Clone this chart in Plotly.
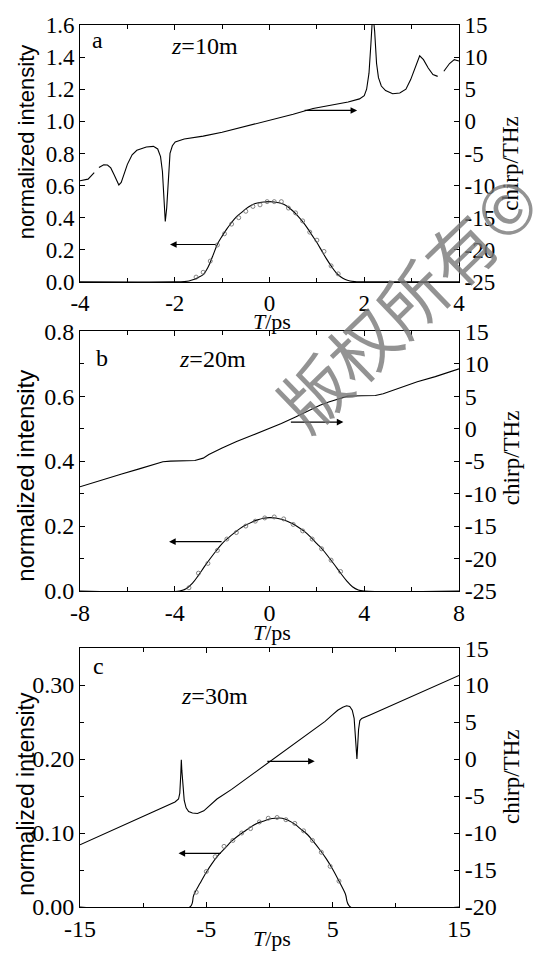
import plotly.graph_objects as go

# ---------------- data ----------------
# panel a (z = 10 m)
a_T = [-4, -2.0, -1.8, -1.7, -1.6, -1.5, -1.4, -1.3, -1.2, -1.1, -1.0, -0.9, -0.8, -0.7, -0.6, -0.5,
       -0.4, -0.3, -0.2, -0.1, 0, 0.1, 0.2, 0.3, 0.4, 0.5, 0.6, 0.7, 0.8, 0.9, 1.0, 1.1, 1.2, 1.3,
       1.4, 1.5, 1.6, 1.7, 1.8, 1.9, 2.0, 4]
a_I = [0, 0, 0.002, 0.006, 0.015, 0.028, 0.045, 0.09, 0.16, 0.235, 0.285, 0.33, 0.37, 0.405, 0.43,
       0.455, 0.475, 0.488, 0.495, 0.498, 0.5, 0.498, 0.493, 0.483, 0.465, 0.44, 0.41, 0.375, 0.335,
       0.29, 0.245, 0.195, 0.145, 0.1, 0.06, 0.032, 0.015, 0.006, 0.002, 0.0005, 0, 0]
a_mT = [-1.55, -1.4, -1.25, -1.1, -0.95, -0.8, -0.65, -0.5, -0.35, -0.2, -0.05, 0.1, 0.25, 0.4,
        0.55, 0.7, 0.85, 1.0, 1.15, 1.3, 1.45]
a_mI = [0.03, 0.06, 0.13, 0.23, 0.30, 0.36, 0.40, 0.44, 0.47, 0.48, 0.50, 0.50, 0.50, 0.46, 0.43,
        0.38, 0.31, 0.26, 0.19, 0.10, 0.05]
a_cT = [-4, -3.83, -3.7, None, -3.6, -3.5, -3.42, -3.35, -3.28, -3.22, -3.18, -3.13, -3.08, -3.0,
        -2.9, -2.8, -2.6, -2.45, -2.36, -2.3, -2.26, -2.23, -2.2, -2.17, -2.14, -2.1, -2.05, -1.99,
        -1.8, -1.4, -1.0, -0.5, 0, 0.5, 0.92, 1.3, 1.66, 1.9, 2.0, 2.05, 2.1, 2.14, 2.18, 2.22, 2.26,
        2.3, 2.36, 2.45, 2.6, 2.75, 2.88, 2.98, 3.08, 3.17, 3.25, 3.35, 3.45, 3.55, None, 3.68, 3.8,
        3.9, 4.0]
a_C = [-9.25, -9.0, -8.0, None, -7.2, -6.75, -6.8, -7.25, -8.3, -9.4, -9.9, -9.5, -8.5, -6.7,
       -5.2, -4.5, -4.0, -3.9, -4.3, -5.5, -7.8, -11.5, -15.6, -13.5, -9.0, -5.0, -3.8, -3.2,
       -2.75, -2.3, -1.7, -0.8, 0.2, 1.1, 2.0, 2.5, 3.0, 3.5, 4.0, 5.0, 7.5, 12.0, 17.0, 14.0, 9.0,
       6.8, 5.5, 4.8, 4.3, 4.4, 5.0, 6.5, 8.5, 10.2, 9.6, 8.3, 7.3, 7.0, None, 7.8, 9.0, 9.6, 9.4]

# panel b (z = 20 m)
b_T = [-8, -3.8, -3.5, -3.25, -3.0, -2.75, -2.5, -2.25, -2.0, -1.75, -1.5, -1.25, -1.0, -0.75,
       -0.5, -0.25, 0, 0.25, 0.5, 0.75, 1.0, 1.25, 1.5, 1.75, 2.0, 2.25, 2.5, 2.75, 3.0, 3.25, 3.5,
       3.75, 4.0, 8]
b_I = [0, 0, 0.008, 0.024, 0.048, 0.075, 0.1, 0.124, 0.146, 0.163, 0.178, 0.192, 0.203, 0.212,
       0.219, 0.224, 0.226, 0.225, 0.221, 0.215, 0.206, 0.195, 0.182, 0.165, 0.146, 0.127, 0.104,
       0.08, 0.055, 0.032, 0.013, 0.003, 0, 0]
b_mT = [-3.4, -3.0, -2.6, -2.2, -1.8, -1.4, -1.0, -0.6, -0.2, 0.2, 0.6, 1.0, 1.4, 1.8, 2.2, 2.6, 3.0]
b_mI = [0.01, 0.055, 0.085, 0.125, 0.16, 0.18, 0.20, 0.215, 0.225, 0.228, 0.222, 0.205, 0.185,
        0.16, 0.13, 0.095, 0.06]
b_cT = [-8, -7, -6.24, -5.5, -4.92, -4.5, -4.18, -3.6, -3.15, -2.8, -2.56, -2.0, -1.39, -0.7, 0,
        0.5, 1.1, 1.6, 2.13, 2.5, 2.86, 3.3, 3.9, 4.47, 4.8, 5.06, 5.6, 6.24, 7.0, 8]
b_C = [-8.95, -7.9, -7.0, -6.2, -5.5, -5.1, -5.0, -4.95, -4.9, -4.55, -4.0, -3.0, -2.0, -1.0, 0.0,
       0.8, 1.8, 2.7, 3.6, 4.1, 4.5, 5.0, 5.05, 5.1, 5.35, 5.7, 6.4, 7.2, 8.0, 9.2]

# panel c (z = 30 m)
c_T = [-15, -6.3, -6.0, -5.5, -5.0, -4.5, -4.0, -3.5, -3.0, -2.5, -2.0, -1.5, -1.0, -0.5, 0, 0.5,
       1.0, 1.5, 2.0, 2.5, 3.0, 3.5, 4.0, 4.5, 5.0, 5.5, 6.0, 6.4, 15]
c_I = [0, 0, 0.016, 0.032, 0.047, 0.06, 0.071, 0.08, 0.089, 0.096, 0.102, 0.108, 0.113, 0.116,
       0.119, 0.12, 0.12, 0.117, 0.112, 0.105, 0.098, 0.088, 0.077, 0.065, 0.051, 0.035, 0.018, 0, 0]
c_mT = [-5.8, -5.0, -4.3, -3.6, -2.9, -2.2, -1.5, -0.8, -0.1, 0.6, 1.3, 2.0, 2.7, 3.4, 4.1, 4.8, 5.5]
c_mI = [0.02, 0.048, 0.068, 0.082, 0.09, 0.10, 0.106, 0.115, 0.12, 0.121, 0.118, 0.113, 0.103,
        0.09, 0.074, 0.055, 0.035]
c_cT = [-15, -12, -10, -8.5, -7.48, -7.2, -7.1, -7.02, -6.98, -6.94, -6.87, -6.75, -6.6, -6.4,
        -6.1, -5.7, -5.2, -4.16, -3.0, -1.95, -1.0, 0.0, 1.0, 2.2, 3.3, 4.4, 5.0, 5.4, 5.8, 6.1,
        6.35, 6.55, 6.7, 6.8, 6.87, 6.92, 6.97, 7.05, 7.15, 7.3, 8.0, 10.49, 12.5, 15]
c_C = [-11.6, -9.3, -7.75, -6.6, -5.8, -5.4, -4.6, -2.0, -0.1, -1.5, -3.7, -5.6, -6.6, -7.1, -7.3,
       -7.35, -7.0, -5.4, -4.1, -2.8, -1.5, -0.3, 0.9, 2.4, 3.8, 5.1, 6.0, 6.6, 7.0, 7.2, 7.1, 6.6,
       5.5, 3.0, 1.0, 0.0, 1.5, 4.0, 5.2, 5.5, 6.0, 7.9, 9.4, 11.3]

# tick labels
a_xt = [-4, -2, 0, 2, 4]
a_yt = [0.0, 0.2, 0.4, 0.6, 0.8, 1.0, 1.2, 1.4, 1.6]
a_y2t = [-25, -20, -15, -10, -5, 0, 5, 10, 15]
b_xt = [-8, -4, 0, 4, 8]
b_yt = [0.0, 0.2, 0.4, 0.6, 0.8]
b_y2t = [-25, -20, -15, -10, -5, 0, 5, 10, 15]
c_xt = [-15, -5, 5, 15]
c_yt = [0.0, 0.10, 0.20, 0.30]
c_y2t = [-20, -15, -10, -5, 0, 5, 10, 15]

# ---------------- figure ----------------
W, H = 545, 954
L, R, TOP, BOT = 80, 459, 14, 910


def pxx(x):
    return (x - L) / (R - L)


def pyy(y):
    return (BOT - y) / (BOT - TOP)


SERIF = "Liberation Serif"
SANS = "Liberation Sans"
LINE = dict(color="black", width=1.1)

fig = go.Figure()
panels = [
    ("x", "y", "y2", a_T, a_I, a_mT, a_mI, a_cT, a_C),
    ("x2", "y3", "y4", b_T, b_I, b_mT, b_mI, b_cT, b_C),
    ("x3", "y5", "y6", c_T, c_I, c_mT, c_mI, c_cT, c_C),
]
for xa, ya, ya2, T_, I_, mT, mI, cT, C_ in panels:
    fig.add_trace(go.Scatter(x=T_, y=I_, mode="lines", line=LINE, xaxis=xa, yaxis=ya,
                             showlegend=False, line_shape="spline"))
    fig.add_trace(go.Scatter(x=mT, y=mI, mode="markers", xaxis=xa, yaxis=ya, showlegend=False,
                             marker=dict(symbol="circle-open", size=4, color="#666",
                                         line=dict(width=0.8))))
    fig.add_trace(go.Scatter(x=cT, y=C_, mode="lines", line=LINE, xaxis=xa, yaxis=ya2,
                             showlegend=False))


def common(size):
    return dict(showgrid=False, zeroline=False, showline=True, linecolor="black", linewidth=1,
                ticks="inside", ticklen=5, tickcolor="black", tickwidth=1,
                tickfont=dict(family=SERIF, size=size, color="black"), tickmode="array")


def xax(rng, tv, minor_vals, anchor, size):
    return dict(common(size), range=rng, tickvals=tv, ticktext=[str(v) for v in tv],
                anchor=anchor, domain=[0, 1], mirror="ticks",
                minor=dict(tickvals=minor_vals, ticks="inside", ticklen=4, tickcolor="black"))


def yax(rng, tv, dec, dom, anchor, size, minor_vals=None):
    d = dict(common(size), range=rng, tickvals=tv, ticktext=[f"{v:.{dec}f}" for v in tv],
             domain=dom, anchor=anchor)
    if minor_vals:
        d["minor"] = dict(tickvals=minor_vals, ticks="inside", ticklen=4, tickcolor="black")
    return d


def y2ax(rng, tv, over, anchor, size):
    return dict(common(size), range=rng, tickvals=tv, ticktext=[str(v) for v in tv],
                overlaying=over, side="right", anchor=anchor)


dom_a = [pyy(275), 1.0]
dom_b = [pyy(589), pyy(325)]
dom_c = [0.0, pyy(647)]

fig.update_layout(
    width=W, height=H, margin=dict(l=L, r=W - R, t=TOP, b=H - BOT),
    paper_bgcolor="white", plot_bgcolor="white",
    xaxis=xax([-4, 4], a_xt, [-3, -1, 1, 3], "y", 23),
    yaxis=yax([0, 1.6], a_yt, 1, dom_a, "x", 23),
    yaxis2=y2ax([-25, 15], a_y2t, "y", "x", 23),
    xaxis2=xax([-8, 8], b_xt, [-6, -2, 2, 6], "y3", 24),
    yaxis3=yax([0, 0.8], b_yt, 1, dom_b, "x2", 24, [0.1, 0.3, 0.5, 0.7]),
    yaxis4=y2ax([-25, 15], b_y2t, "y3", "x2", 24),
    xaxis3=xax([-15, 15], c_xt, [-10, 0, 10], "y5", 24),
    yaxis5=yax([0, 0.35], c_yt, 2, dom_c, "x3", 24, [0.05, 0.15, 0.25]),
    yaxis6=y2ax([-20, 15], c_y2t, "y5", "x3", 24),
)

ann = []


def text(x, y, s, size=22, family=SERIF, angle=0, color="black"):
    ann.append(dict(x=pxx(x), y=pyy(y), xref="paper", yref="paper", text=s, showarrow=False,
                    font=dict(family=family, size=size, color=color), textangle=angle,
                    xanchor="center", yanchor="middle"))


# panel labels
text(97, 29, "a", size=24)
text(204, 35, "<i>z</i>=10m", size=24)
text(102, 352, "b", size=24)
text(212, 353, "<i>z</i>=20m", size=24)
text(98, 665, "c", size=24)
text(214, 696, "<i>z</i>=30m", size=24)
# axis titles
for yc, fs in [(133, 22), (472, 24), (795, 23)]:
    text(26, yc, "normalized intensity", size=fs, family=SANS, angle=-90)
for yc in [155, 454, 778]:
    text(511, yc, "chirp/THz", size=23, angle=-90)
for yc in [315, 631, 942]:
    text(272, yc, "<i>T</i>/ps", size=22)

# arrows (tail -> head)
arrows = [
    ("x", "y", -1.11, 0.233, -2.1, 0.233),
    ("x", "y2", 0.71, 1.7, 1.85, 1.7),
    ("x2", "y3", -1.96, 0.152, -4.24, 0.152),
    ("x2", "y4", 0.84, 1.0, 3.12, 1.0),
    ("x3", "y5", -3.75, 0.0725, -7.2, 0.0725),
    ("x3", "y6", -0.29, -0.3, 3.58, -0.3),
]
for xr, yr, x0, y0, x1, y1 in arrows:
    ann.append(dict(x=x1, y=y1, ax=x0, ay=y0, xref=xr, yref=yr, axref=xr, ayref=yr, text="",
                    showarrow=True, arrowhead=2, arrowsize=1.1, arrowwidth=1.2,
                    arrowcolor="black", standoff=0, startstandoff=0))

# watermark
ann.append(dict(x=pxx(406), y=pyy(294), xref="paper", yref="paper", text="版权所有©",
                showarrow=False, textangle=-44,
                font=dict(family="Noto Sans CJK SC", size=68, color="rgba(120,120,120,0.8)"),
                xanchor="center", yanchor="middle"))

fig.update_layout(annotations=ann)
fig.write_html("out.html")
